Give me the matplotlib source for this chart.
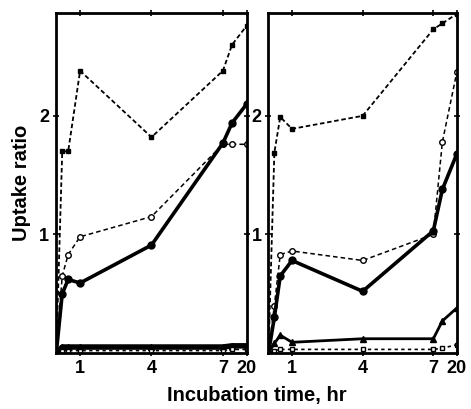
import matplotlib
matplotlib.use("Agg")
import matplotlib.pyplot as plt

# --- DATA (incubation time in hr, uptake ratio) ---
TIMES = [0, 0.25, 0.5, 1, 4, 7, 12, 20]
TICK_TIMES = [1, 4, 7, 20]

# left panel
left_sq = [0, 1.70, 1.70, 2.38, 1.82, 2.38, 2.60, 2.76]
left_open = [0, 0.65, 0.83, 0.98, 1.15, 1.76, 1.76, 1.76]
left_solid = [0, 0.50, 0.62, 0.59, 0.91, 1.77, 1.94, 2.10]
left_low = [0, 0.05, 0.05, 0.05, 0.05, 0.05, 0.06, 0.06]
left_low_open = [0, 0.02, 0.02, 0.02, 0.02, 0.02, 0.03, 0.03]

# right panel
right_sq = [0, 1.69, 1.99, 1.89, 2.00, 2.73, 2.78, 2.86]
right_open = [0, 0.40, 0.83, 0.86, 0.78, 1.00, 1.78, 2.37]
right_solid = [0, 0.30, 0.65, 0.78, 0.52, 1.03, 1.38, 1.68]
right_low = [0, 0.08, 0.15, 0.09, 0.12, 0.12, 0.27, 0.38]
right_low_open = [0, 0.02, 0.03, 0.03, 0.03, 0.03, 0.04, 0.07]


def pos(t):
    """Broken time axis: linear up to 7 hr, 20 hr squeezed at the edge."""
    return t if t <= 7 else 7 + (t - 7) / 13


X = [pos(t) for t in TIMES]
FONT = "Liberation Sans"


def draw_panel(ax, sq, opn, solid, low, low_open, low_lw):
    ax.plot(X, sq, color="black", lw=1.3, dashes=(2.5, 1.5), marker="s", ms=3.5)
    ax.plot(X, opn, color="black", lw=1.1, dashes=(3, 2), marker="o", ms=4,
            mfc="white", mew=1)
    ax.plot(X, solid, color="black", lw=2.6, marker="o", ms=5)
    ax.plot(X, low, color="black", lw=low_lw, marker="^", ms=4)
    ax.plot(X, low_open, color="black", lw=1.2, dashes=(2, 2), marker="s",
            ms=3, mfc="white")
    ax.set_xlim(0, 8.0)
    ax.set_ylim(0, 2.87)
    ax.set_xticks([pos(t) for t in TICK_TIMES])
    ax.set_xticklabels([str(t) for t in TICK_TIMES])
    ax.set_yticks([1, 2])
    ax.set_yticklabels(["1", "2"])
    ax.tick_params(direction="inout", length=4, width=1.2, top=True, right=True,
                   labelsize=13, pad=3)
    for lab in ax.get_xticklabels() + ax.get_yticklabels():
        lab.set_fontweight("bold")
        lab.set_family(FONT)
    for sp in ax.spines.values():
        sp.set_linewidth(2)


fig = plt.figure(figsize=(4.71, 4.09), dpi=100)
ax1 = fig.add_axes([0.1195, 0.137, 0.4043, 0.832])
ax2 = fig.add_axes([0.570, 0.137, 0.400, 0.832])

draw_panel(ax1, left_sq, left_open, left_solid, left_low, left_low_open, 4)
draw_panel(ax2, right_sq, right_open, right_solid, right_low, right_low_open, 2)

ax1.set_ylabel("Uptake ratio", fontsize=14.5, fontweight="bold", family=FONT,
               labelpad=6)
fig.text(0.545, 0.02, "Incubation time, hr", ha="center", fontsize=14.5,
         fontweight="bold", family=FONT)

fig.savefig("out.png", dpi=100)
